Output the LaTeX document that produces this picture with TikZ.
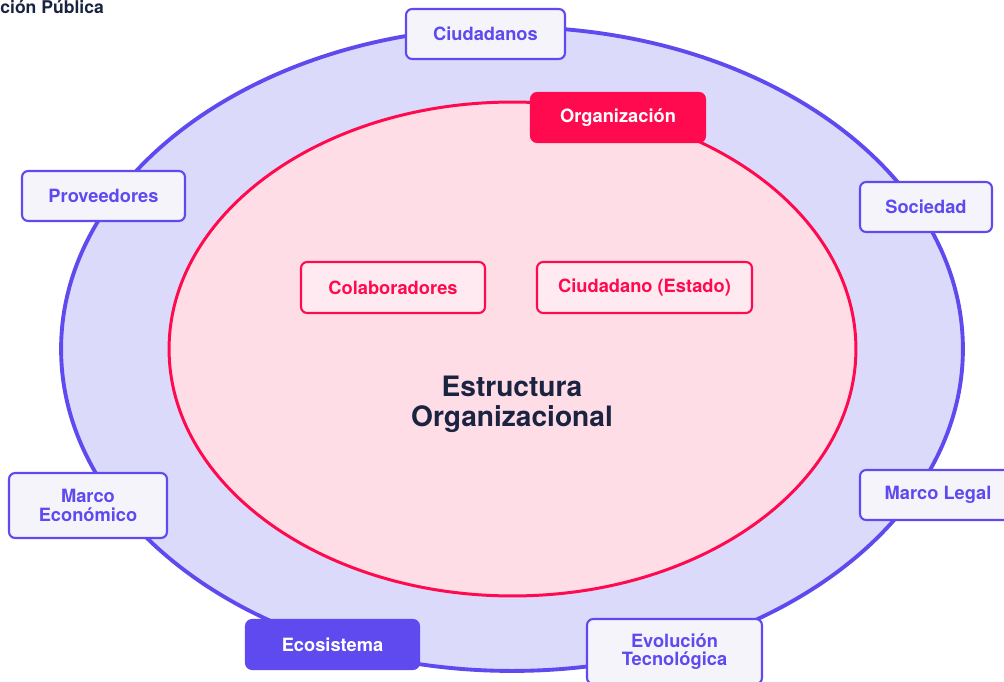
\documentclass[tikz,border=0pt]{standalone}
\usepackage{fontspec}
\setmainfont{TeX Gyre Heros}
\usetikzlibrary{positioning}
\definecolor{violeta}{HTML}{5E4AEF}
\definecolor{lavanda}{HTML}{DCDAFB}
\definecolor{rojo}{HTML}{FF0A4E}
\definecolor{rosa}{HTML}{FFDDE6}
\definecolor{rosaclaro}{HTML}{FFEAF1}
\definecolor{grisclaro}{HTML}{F5F4FB}
\definecolor{marino}{HTML}{1A2340}

\begin{document}
\begin{tikzpicture}[x=0.02cm,y=-0.02cm]
      \tikzstyle{caja}=[rounded corners=3.5pt,line width=1.2pt,font=\fontsize{10.4}{10.4}\selectfont\bfseries,align=center,inner sep=0pt];
      \tikzstyle{externo}=[caja,draw=violeta,fill=grisclaro,text=violeta];
      \tikzstyle{interno}=[caja,draw=rojo,fill=rosaclaro,text=rojo];
      \tikzstyle{org}=[caja,draw=rojo,fill=rojo,text=white];
      \tikzstyle{eco}=[caja,draw=violeta,fill=violeta,text=white];
      \clip (0,0) rectangle (1004,682);
      \useasboundingbox (0,0) rectangle (1004,682);
      % anillos
      \draw[line width=2.2pt,draw=violeta,fill=lavanda] (512,349) ellipse [x radius=9.02cm,y radius=6.44cm];
      \draw[line width=1.7pt,draw=rojo,fill=rosa] (512.5,349) ellipse [x radius=6.87cm,y radius=4.94cm];
      \node[anchor=south west,inner sep=0pt,text=marino,font=\fontsize{10}{11}\selectfont\bfseries] (titulo) at (0,14) {ción Pública};
      \node[text=marino,align=center,font=\fontsize{16}{17}\selectfont\bfseries] (estructura) at (512,404) {Estructura\\Organizacional};
      % entorno
      \node[externo,minimum width=3.18cm,minimum height=1cm] (ciudadanos) at (485.5,34) {Ciudadanos};
      \node[externo,minimum width=3.26cm,minimum height=1cm] (proveedores) at (103.5,196) {Proveedores};
      \node[externo,minimum width=2.64cm,minimum height=1cm] (sociedad) at (926,207) {Sociedad};
      \node[externo,minimum width=3.16cm,minimum height=1.3cm] (economico) at (88,505.5) {Marco\\Económico};
      \node[externo,minimum width=3.12cm,minimum height=1cm] (legal) at (938,495) {Marco Legal};
      \node[eco,minimum width=3.46cm,minimum height=0.98cm] (ecosistema) at (332.5,644.5) {Ecosistema};
      \node[externo,minimum width=3.5cm,minimum height=1.3cm] (evolucion) at (674.5,651.5) {Evolución\\Tecnológica};
      % organizacion
      \node[org,minimum width=3.48cm,minimum height=0.98cm] (organizacion) at (618,117.5) {Organización};
      \node[interno,minimum width=3.68cm,minimum height=1.02cm] (colaboradores) at (393,287.5) {Colaboradores};
      \node[interno,minimum width=4.3cm,minimum height=1.02cm] (estado) at (644.5,287.5) {Ciudadano (Estado)};
    \end{tikzpicture}
\end{document}
